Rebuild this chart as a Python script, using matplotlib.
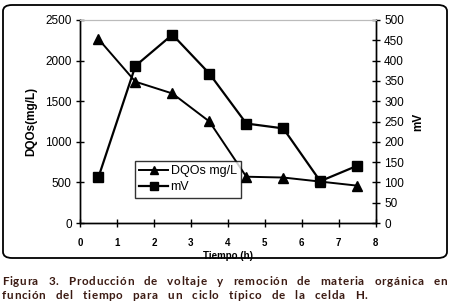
import matplotlib
matplotlib.use("Agg")
import matplotlib.pyplot as plt
from matplotlib.patches import FancyBboxPatch

tiempo = [0.5, 1.5, 2.5, 3.5, 4.5, 5.5, 6.5, 7.5]
dqos = [2265, 1740, 1595, 1250, 570, 560, 510, 460]
mv = [113, 387, 464, 368, 245, 233, 103, 141]

xticks = [0, 1, 2, 3, 4, 5, 6, 7, 8]
yticks_left = [0, 500, 1000, 1500, 2000, 2500]
yticks_right = [0, 50, 100, 150, 200, 250, 300, 350, 400, 450, 500]

caption1 = "Figura 3. Producción de voltaje y remoción de materia orgánica en"
caption2 = "función del tiempo para un ciclo típico de la celda H."

plt.rcParams['font.family'] = ['Liberation Sans', 'DejaVu Sans']

W, H = 453, 307
fig = plt.figure(figsize=(W / 100, H / 100), dpi=100)
fig.patch.set_facecolor('white')

# rounded outer frame
frame = FancyBboxPatch((3 / W, 1 - 258 / H), 444 / W, 253 / H,
                       boxstyle="round,pad=0,rounding_size=0.02",
                       transform=fig.transFigure, fill=False,
                       edgecolor='black', linewidth=1.3)
fig.add_artist(frame)

ax = fig.add_axes([80 / W, 1 - 223 / H, 295.7 / W, 203 / H])
ax2 = ax.twinx()

l1, = ax.plot(tiempo, dqos, color='black', marker='^', markersize=7.5,
              linewidth=1.4, label='DQOs mg/L')
l2, = ax2.plot(tiempo, mv, color='black', marker='s', markersize=7.5,
               linewidth=1.6, label='mV')

ax.set_xlim(0, 8)
ax.set_ylim(0, 2500)
ax2.set_ylim(0, 500)
ax.set_xticks(xticks)
ax.set_yticks(yticks_left)
ax2.set_yticks(yticks_right)

for a in (ax, ax2):
    a.spines['top'].set_color('#bbbbbb')
    a.spines['top'].set_linewidth(0.8)
    for s in ('left', 'right', 'bottom'):
        a.spines[s].set_linewidth(1.0)

ax.tick_params(axis='y', direction='inout', length=6, width=1, labelsize=8.5, pad=3)
ax.tick_params(axis='x', direction='inout', length=6, width=1, labelsize=7, pad=8)
ax2.tick_params(axis='y', direction='inout', length=6, width=1, labelsize=8.5, pad=3)
for lbl in ax.get_xticklabels():
    lbl.set_fontweight('bold')

ax.set_xlabel('Tiempo (h)', fontsize=7, fontweight='bold', labelpad=2)
ax.set_ylabel('DQOs(mg/L)', fontsize=8.5, fontweight='bold', labelpad=6)
ax2.set_ylabel('mV', fontsize=8.5, fontweight='bold', rotation=90, labelpad=6)

leg = ax.legend(handles=[l1, l2], loc='upper left',
                bbox_to_anchor=((135 - 80) / 295.7, (223 - 161) / 203),
                frameon=True, fancybox=False, fontsize=9, handlelength=2.3,
                handletextpad=0.2, borderpad=0.35, labelspacing=0.3,
                borderaxespad=0, markerscale=0.85)
leg.get_frame().set_edgecolor('black')
leg.get_frame().set_linewidth(1.0)
leg.set_zorder(5)
ax.set_zorder(ax2.get_zorder() + 1)
ax.patch.set_visible(False)

# caption, drawn character by character with letter spacing
cap_color = '#3b1a12'
cap_font = dict(fontsize=8.4, fontweight='bold', color=cap_color,
                family=['Lato', 'DejaVu Sans'])
fig.canvas.draw()
renderer = fig.canvas.get_renderer()


def text_width(s):
    t = fig.text(0, 0, s, **cap_font)
    w = t.get_window_extent(renderer).width
    t.remove()
    return w


def char_widths(text):
    base = text_width('nn')
    out = []
    for ch in text:
        out.append(text_width('n' + ch + 'n') - base)
    return out


def draw_line(text, x0, x_end, y, tracking):
    ws = char_widths(text)
    n = len(text)
    nspace = text.count(' ')
    natural = sum(ws)
    space_extra = (x_end - x0 - natural - tracking * (n - 1)) / nspace
    space_extra = max(space_extra, 0.0)
    x = x0
    for ch, w in zip(text, ws):
        if ch != ' ':
            fig.text(x / W, 1 - y / H, ch, **cap_font)
        x += w + tracking
        if ch == ' ':
            x += space_extra


draw_line(caption2, 2, 367, 299, tracking=0.7)
draw_line(caption1, 2, 447, 285, tracking=0.7)

fig.savefig('out.png', dpi=100, facecolor='white')
